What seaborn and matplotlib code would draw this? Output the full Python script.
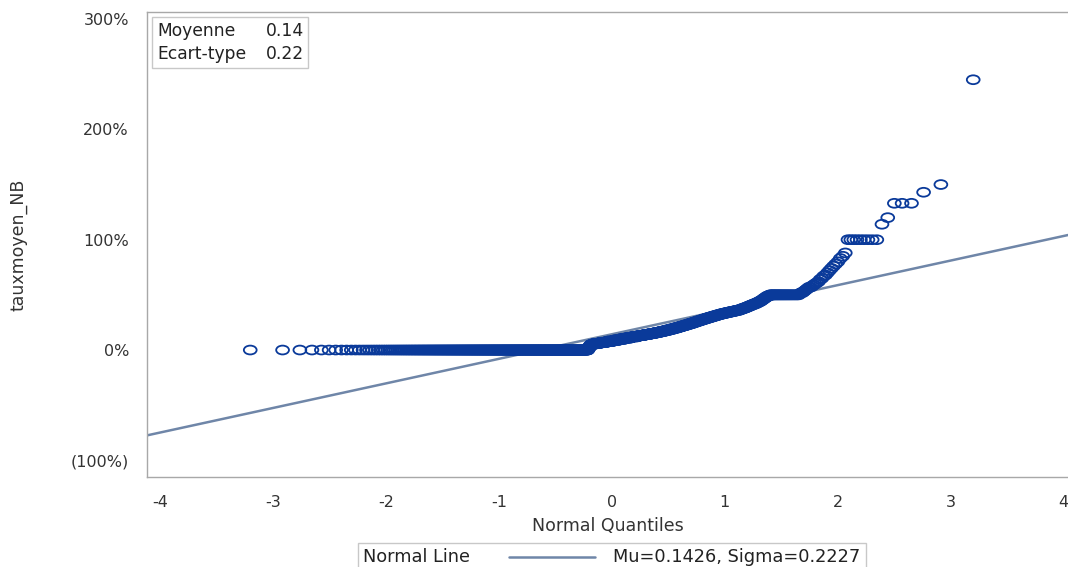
### Normal QQ plot of tauxmoyen_NB
from statistics import NormalDist
import numpy as np
import matplotlib
matplotlib.use("Agg")
import matplotlib.pyplot as plt
import seaborn as sns
from matplotlib.path import Path
from matplotlib.lines import Line2D
from matplotlib.ticker import FuncFormatter
from matplotlib.offsetbox import AnchoredOffsetbox, HPacker, VPacker, TextArea, DrawingArea

taux_levels = [0, 1, 2, 3, 4, 5, 6, 7, 8, 9, 10, 11, 12, 13, 14, 15, 16, 17, 18, 19, 20,
               21, 22, 23, 24, 25, 26, 27, 28, 29, 30, 31, 32, 33, 34, 35, 36, 37, 38, 39,
               40, 41, 42, 43, 44, 45, 46, 47, 48, 49, 50, 51, 52, 53, 54, 55, 56, 57, 58,
               59, 60, 61, 62, 64, 65, 67, 68, 70, 72, 74, 76, 78, 80, 83, 85, 88, 100,
               114, 120, 133, 143, 150, 245]
taux_counts = [380, 2, 2, 2, 3, 10, 20, 22, 21, 19, 19, 19, 20, 19, 18, 17, 15, 14, 13, 12, 11,
               10, 10, 9, 9, 8, 8, 8, 8, 8, 8, 8, 8, 9, 9, 9, 8, 5, 5, 4,
               4, 4, 4, 3, 3, 2, 2, 2, 2, 3, 30, 1, 2, 1, 1, 1, 1, 2, 1,
               1, 1, 1, 1, 1, 1, 1, 1, 1, 1, 1, 1, 1, 1, 1, 1, 1, 9,
               1, 1, 3, 1, 1, 1]

# fitted normal line parameters
mu = 0.1426
sigma = 0.2227
stat_names = ["Moyenne", "Ecart-type"]
stat_values = ["0.14", "0.22"]

x_ticks = [-4, -3, -2, -1, 0, 1, 2, 3, 4]
y_ticks = [-1, 0, 1, 2, 3]

# build sorted sample and Blom normal scores
values = np.repeat(np.array(taux_levels) / 100.0, taux_counts)
n = len(values)
nd = NormalDist()
quantiles = np.array([nd.inv_cdf((i - 0.375) / (n + 0.25)) for i in range(1, n + 1)])

sns.set_theme(style="white")
plt.rcParams["font.family"] = ["DejaVu Sans"]
plt.rcParams["axes.unicode_minus"] = False

fig = plt.figure(figsize=(10.68, 5.67), dpi=100)
ax = fig.add_axes([147 / 1068, 1 - 477 / 567, 921 / 1068, 465 / 567])

# slightly wide open circle, like the original render
circ = Path.unit_circle()
ellipse = Path(circ.vertices * np.array([1.45, 1.0]), circ.codes)

ax.axline((0, mu), slope=sigma, color="#6f86a8", lw=1.8, zorder=1)
sns.scatterplot(x=quantiles, y=values, marker=ellipse, s=85, color="#0a3a9a",
                facecolor="none", edgecolor="#0a3a9a", linewidth=1.3, ax=ax, zorder=2)

ax.set_xlim(-4.115, 4.04)
ax.set_ylim(-1.151, 3.064)
ax.set_xticks(x_ticks)
ax.set_yticks(y_ticks)
ax.yaxis.set_major_formatter(FuncFormatter(
    lambda v, p: f"{v * 100:.0f}%" if v >= 0 else f"({-v * 100:.0f}%)"))

for side in ["left", "top", "bottom"]:
    ax.spines[side].set_color("#a8a8a8")
    ax.spines[side].set_linewidth(1.0)
ax.spines["right"].set_visible(False)
ax.tick_params(direction="out", length=6, width=1, color="#a8a8a8",
               labelsize=11.5, labelcolor="#333333", pad=7)

ax.set_xlabel("Normal Quantiles", fontsize=12.5, color="#333333", labelpad=5)
ax.set_ylabel("tauxmoyen_NB", fontsize=12.5, color="#333333", labelpad=31)

# stats inset (top left)
txt = dict(fontsize=12.3, color="#222222")
names_box = VPacker(children=[TextArea(s, textprops=txt) for s in stat_names], align="left", pad=0, sep=4)
vals_box = VPacker(children=[TextArea(s, textprops=txt) for s in stat_values], align="right", pad=0, sep=4)
stats = AnchoredOffsetbox(loc="upper left", child=HPacker(children=[names_box, vals_box], sep=14, pad=0),
                          pad=0.3, borderpad=0.35, frameon=True)
stats.patch.set_edgecolor("#c8c8c8")
stats.patch.set_linewidth(1.0)
ax.add_artist(stats)

# bottom legend for the normal line
ltxt = dict(fontsize=12.8, color="#222222")
swatch = DrawingArea(62, 10, 0, 0)
swatch.add_artist(Line2D([0, 62], [5, 5], color="#6f86a8", lw=1.8))
legend_row = HPacker(children=[TextArea("Normal Line", textprops=ltxt),
                               HPacker(children=[swatch, TextArea(f"Mu={mu}, Sigma={sigma}", textprops=ltxt)],
                                       sep=13, pad=0, align="center")],
                     sep=28, pad=0, align="center")
leg = AnchoredOffsetbox(loc="upper center", child=legend_row, pad=0.35, borderpad=0,
                        frameon=True, bbox_to_anchor=(612 / 1068, 1 - 543 / 567),
                        bbox_transform=fig.transFigure)
leg.patch.set_edgecolor("#c8c8c8")
leg.patch.set_linewidth(1.0)
fig.add_artist(leg)

plt.savefig("out.png", dpi=100)
